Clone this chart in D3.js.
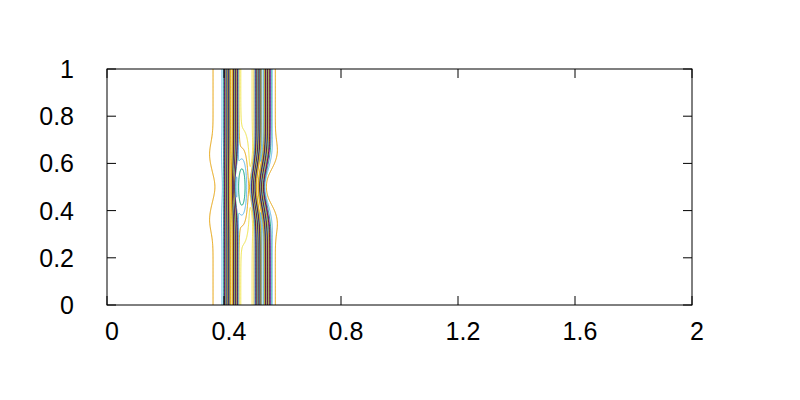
<!DOCTYPE html>
<html><head><meta charset="utf-8">
<script src="https://cdn.jsdelivr.net/npm/d3@7"></script>
<style>body{margin:0;background:#fff}svg{display:block}</style>
</head><body>
<svg id="chart" width="800" height="400"></svg>
<script>
// ---------- data ----------
const xTicks = [0, 0.4, 0.8, 1.2, 1.6, 2];
const xTickLabels = ["0", "0.4", "0.8", "1.2", "1.6", "2"];
const yTicks = [0, 0.2, 0.4, 0.6, 0.8, 1];
const yTickLabels = ["0", "0.2", "0.4", "0.6", "0.8", "1"];
// gnuplot line types 1..8
const lineTypeColors = ["#9400d3", "#009e73", "#56b4e9", "#e69f00", "#f0e442", "#0072b2", "#e51e10", "#000000"];
// contour levels (z values)
const contourLevels = d3.range(0, 29);
// band parameters:
// [x at top/bottom, x shift at y=0.5, outer core width, inner core width, outer narrowing at y=0.5,
//  inner narrowing at y=0.5, skirt amp, skirt width, skirt bulge, skirt notch]
const leftBand  = [0.4253, -0.002, 0.0153, 0.0153, 0.10, 0.40, 1.68, 0.057, 0.18, 0.14];
const rightBand = [0.5316, -0.019, 0.017, 0.017, 0.05, 0.15, 2.57, 0.0336, 0.28, 0.50];
const bandHeight = 24;
// island between bands: [x, y, amplitude, width x, width y]
const island = [0.461, 0.5, 7.0, 0.028, 0.15];
// background levels: [outside, trough at top/bottom, trough at y=0.5]
const baseLevels = [0.5, -0.3, -3.0];

// ---------- layout ----------
const svg = d3.select("#chart");
const X = d3.scaleLinear().domain([0, 2]).range([107, 692]);
const Y = d3.scaleLinear().domain([0, 1]).range([305, 69]);

const sq = v => v * v;
function g(v, m, s) { return Math.exp(-sq((v - m) / s)); }
function sig(t) { return 1 / (1 + Math.exp(-t)); }

function bandTerms(P, x, y, outerLeft) {
  const bend = g(y, 0.5, 0.12);
  const notch = g(y, 0.5, 0.06);
  const bul = g(y, 0.36, 0.07) + g(y, 0.64, 0.07);
  const c = P[0] + P[1] * bend;
  const d = x - c;
  const outer = outerLeft ? d < 0 : d > 0;
  const wo = P[2] * (1 - P[4] * bend);
  const wi = P[3] * (1 - P[5] * bend);
  const core = bandHeight * Math.exp(-sq(d / (outer ? wo : wi)));
  const ws = P[7] * (1 + P[8] * bul - P[9] * notch);
  const skirt = P[6] * Math.exp(-sq(d / (outer ? ws : 0.008)));
  return { c, v: core + skirt };
}

function field(x, y) {
  const a = bandTerms(leftBand, x, y, true);
  const b = bandTerms(rightBand, x, y, false);
  const m = sig((x - a.c) / 0.003) * sig((b.c - x) / 0.003);
  const trough = baseLevels[1] + (baseLevels[2] - baseLevels[1]) * g(y, 0.5, 0.15);
  const base = baseLevels[0] * (1 - m) + trough * m;
  const isl = island[2] * Math.exp(-sq((x - island[0]) / island[3]) - sq((y - island[1]) / island[4]));
  return base + a.v + b.v + isl;
}

// grid
const gx0 = 0.26, gx1 = 0.70, gy0 = -0.03, gy1 = 1.03;
const nx = 881, ny = 320;
const dx = (gx1 - gx0) / (nx - 1), dy = (gy1 - gy0) / (ny - 1);
const values = new Float64Array(nx * ny);
for (let j = 0; j < ny; j++) {
  const y = gy0 + j * dy;
  for (let i = 0; i < nx; i++) values[j * nx + i] = field(gx0 + i * dx, y);
}

const contours = d3.contours().size([nx, ny]).smooth(true).thresholds(contourLevels)(values);

const proj = d3.geoTransform({
  point(px, py) {
    this.stream.point(X(gx0 + (px - 0.5) * dx), Y(gy0 + (py - 0.5) * dy));
  }
});
const path = d3.geoPath(proj);

const clipX0 = X(gx0 + 0.02), clipX1 = X(gx1 - 0.02);
svg.append("clipPath").attr("id", "clip")
  .append("rect").attr("x", clipX0).attr("y", Y(1)).attr("width", clipX1 - clipX0).attr("height", Y(0) - Y(1));

const levelColor = j => lineTypeColors[(((4 - j) % 8) + 8) % 8];

svg.append("g").attr("clip-path", "url(#clip)")
  .selectAll("path").data(contours).join("path")
  .attr("d", path)
  .attr("fill", "none")
  .attr("stroke", (d, i) => levelColor(i))
  .attr("stroke-width", 1);

// frame
svg.append("rect").attr("x", X(0)).attr("y", Y(1))
  .attr("width", X(2) - X(0)).attr("height", Y(0) - Y(1))
  .attr("fill", "none").attr("stroke", "#000").attr("stroke-width", 1);

const tickLen = 9;
const axes = svg.append("g").attr("stroke", "#000").attr("stroke-width", 1);
xTicks.forEach(t => {
  axes.append("line").attr("x1", X(t)).attr("x2", X(t)).attr("y1", Y(0)).attr("y2", Y(0) - tickLen);
  axes.append("line").attr("x1", X(t)).attr("x2", X(t)).attr("y1", Y(1)).attr("y2", Y(1) + tickLen);
});
yTicks.forEach(t => {
  axes.append("line").attr("x1", X(0)).attr("x2", X(0) + tickLen).attr("y1", Y(t)).attr("y2", Y(t));
  axes.append("line").attr("x1", X(2)).attr("x2", X(2) - tickLen).attr("y1", Y(t)).attr("y2", Y(t));
});

const font = "'Liberation Sans', Arial, Helvetica, sans-serif";
svg.append("g").selectAll("text").data(xTicks).join("text")
  .attr("x", d => X(d) + 5).attr("y", 340)
  .attr("text-anchor", "middle")
  .attr("font-family", font).attr("font-size", 25)
  .text((d, i) => xTickLabels[i]);
svg.append("g").selectAll("text").data(yTicks).join("text")
  .attr("x", 74).attr("y", d => Y(d) + 9)
  .attr("text-anchor", "end")
  .attr("font-family", font).attr("font-size", 25)
  .text((d, i) => yTickLabels[i]);
</script>
</body></html>
